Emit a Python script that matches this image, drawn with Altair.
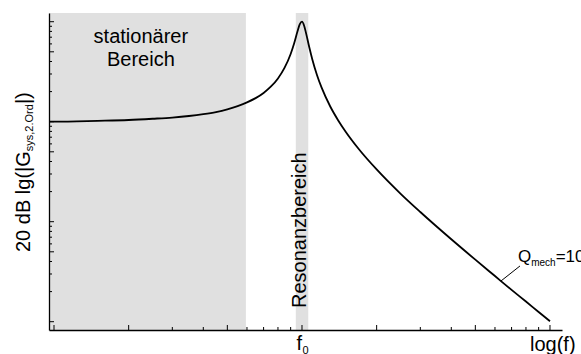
import altair as alt
import pandas as pd

# ---- data ----
freq = [0.955, 1.0, 1.5, 2.0, 2.5, 3.0, 3.5, 4.0, 4.5, 5.0, 5.5, 6.0, 6.5, 7.0, 7.5,
        8.0, 8.5, 9.0, 9.3, 9.6, 9.8, 10.0, 10.2, 10.4, 10.7, 11.0, 11.5, 12.0, 13.0,
        14.0, 15.0, 17.0, 20.0, 25.0, 30.0, 40.0, 50.0, 60.0, 70.0, 80.0, 90.0, 100.0]
gain = [1.0, 1.0, 1.02, 1.04, 1.07, 1.10, 1.14, 1.19, 1.25, 1.33, 1.43, 1.56, 1.72, 1.94, 2.25,
        2.71, 3.45, 4.76, 6.1, 8.07, 9.46, 10.0, 9.12, 7.56, 5.55, 4.22, 2.92, 2.19, 1.42,
        1.03, 0.794, 0.527, 0.333, 0.190, 0.125, 0.0667, 0.0417, 0.0286, 0.0208, 0.0159, 0.0125, 0.0101]

region_start = [0.9546, 9.44]
region_end = [5.94, 10.6]

x_major = [1, 2, 5, 10, 20, 50, 100]
x_minor = [3, 4, 6, 7, 8, 9, 30, 40, 60, 70, 80, 90]
y_major = [0.01, 0.05, 0.1, 0.5, 1, 5, 10]
y_minor = [0.02, 0.03, 0.04, 0.06, 0.07, 0.08, 0.09, 0.2, 0.3, 0.4, 0.6, 0.7, 0.8, 0.9,
           2, 3, 4, 6, 7, 8, 9]

x_dom = [0.9546, 111.8]
y_dom = [0.00826, 12.22]

W, H = 513, 317
FONT = "Liberation Sans, Arial, sans-serif"

xs = alt.Scale(type="log", domain=x_dom, nice=False)
ys = alt.Scale(type="log", domain=y_dom, nice=False)
ax = alt.Axis(title=None, labels=False, ticks=False, grid=False, domain=True,
              domainColor="black", domainWidth=1.3, zindex=1)

curve = pd.DataFrame({"f": freq, "g": gain})
regions = pd.DataFrame({"start": region_start, "end": region_end})

rects = alt.Chart(regions).mark_rect(color="#e0e0e0").encode(
    x=alt.X("start:Q", scale=xs, axis=ax),
    x2="end:Q",
    y=alt.YDatum(y_dom[1], scale=ys, axis=ax),
    y2=alt.Y2Datum(y_dom[0]),
)

def xticks(vals, size):
    return alt.Chart(pd.DataFrame({"v": vals})).mark_rule(color="black", strokeWidth=1).encode(
        x=alt.X("v:Q", scale=xs, axis=ax),
        y=alt.value(H),
        y2=alt.value(H - size),
    )

def yticks(vals, size):
    return alt.Chart(pd.DataFrame({"v": vals})).mark_rule(color="black", strokeWidth=1).encode(
        y=alt.Y("v:Q", scale=ys, axis=ax),
        x=alt.value(0),
        x2=alt.value(size),
    )

line = alt.Chart(curve).mark_line(color="black", strokeWidth=1.8, interpolate="monotone").encode(
    x=alt.X("f:Q", scale=xs, axis=ax),
    y=alt.Y("g:Q", scale=ys, axis=ax),
)

def dtext(text, fx, gy, size=20, **kw):
    return alt.Chart(pd.DataFrame({"a": [0]})).mark_text(
        text=text, font=FONT, fontSize=size, color="black", **kw
    ).encode(
        x=alt.XDatum(fx, scale=xs, axis=ax),
        y=alt.YDatum(gy, scale=ys, axis=ax),
    )

def ptext(text, px, py, size=20, **kw):
    return alt.Chart(pd.DataFrame({"a": [0]})).mark_text(
        text=text, font=FONT, fontSize=size, color="black", **kw
    ).encode(x=alt.value(px), y=alt.value(py))

stat = dtext("stationärer\nBereich", 2.24, 6.12, 20, align="center", baseline="alphabetic",
             lineBreak="\n", lineHeight=23)
reson = dtext("Resonanzbereich", 10.38, 0.0137, 20, angle=270, align="left", baseline="alphabetic")

q1 = dtext("Q", 74.3, 0.0395, 17, align="left", baseline="alphabetic")
q2 = dtext("mech", 74.3, 0.0395, 10, align="left", baseline="alphabetic", dx=13.2, dy=3.5)
q3 = dtext("=10", 74.3, 0.0395, 17, align="left", baseline="alphabetic", dx=37.7)

leader = alt.Chart(pd.DataFrame({"a": [0]})).mark_rule(color="black", strokeWidth=1).encode(
    x=alt.XDatum(63.4, scale=xs, axis=ax),
    x2=alt.X2Datum(75.7),
    y=alt.YDatum(0.0255, scale=ys, axis=ax),
    y2=alt.Y2Datum(0.0361),
)

f0a = alt.Chart(pd.DataFrame({"a": [0]})).mark_text(
    text="f", font=FONT, fontSize=20, color="black", align="left", baseline="alphabetic", dx=-5.5
).encode(x=alt.XDatum(10, scale=xs, axis=ax), y=alt.value(337))
f0b = alt.Chart(pd.DataFrame({"a": [0]})).mark_text(
    text="0", font=FONT, fontSize=11, color="black", align="left", baseline="alphabetic", dx=0.5
).encode(x=alt.XDatum(10, scale=xs, axis=ax), y=alt.value(341))

logf = ptext("log(f)", 481, 338, 20, align="left", baseline="alphabetic")

yt1 = ptext("20 dB lg(|G", -19, 239, 20, angle=270, align="left", baseline="alphabetic")
yt2 = ptext("sys,2.Ord", -16.5, 138.2, 11, angle=270, align="left", baseline="alphabetic")
yt3 = ptext("|)", -19, 91.1, 20, angle=270, align="left", baseline="alphabetic")

chart = alt.layer(
    rects,
    xticks(x_major, 5), xticks(x_minor, 3),
    yticks(y_major, 5), yticks(y_minor, 3),
    line, leader,
    stat, reson, q1, q2, q3, f0a, f0b, logf, yt1, yt2, yt3,
).properties(
    width=W, height=H,
    padding={"left": 49, "top": 13, "right": 19, "bottom": 24},
    autosize="none",
    background="white",
).configure_view(stroke=None)

chart.save("out.html", embed_options={"renderer": "svg", "actions": False})
